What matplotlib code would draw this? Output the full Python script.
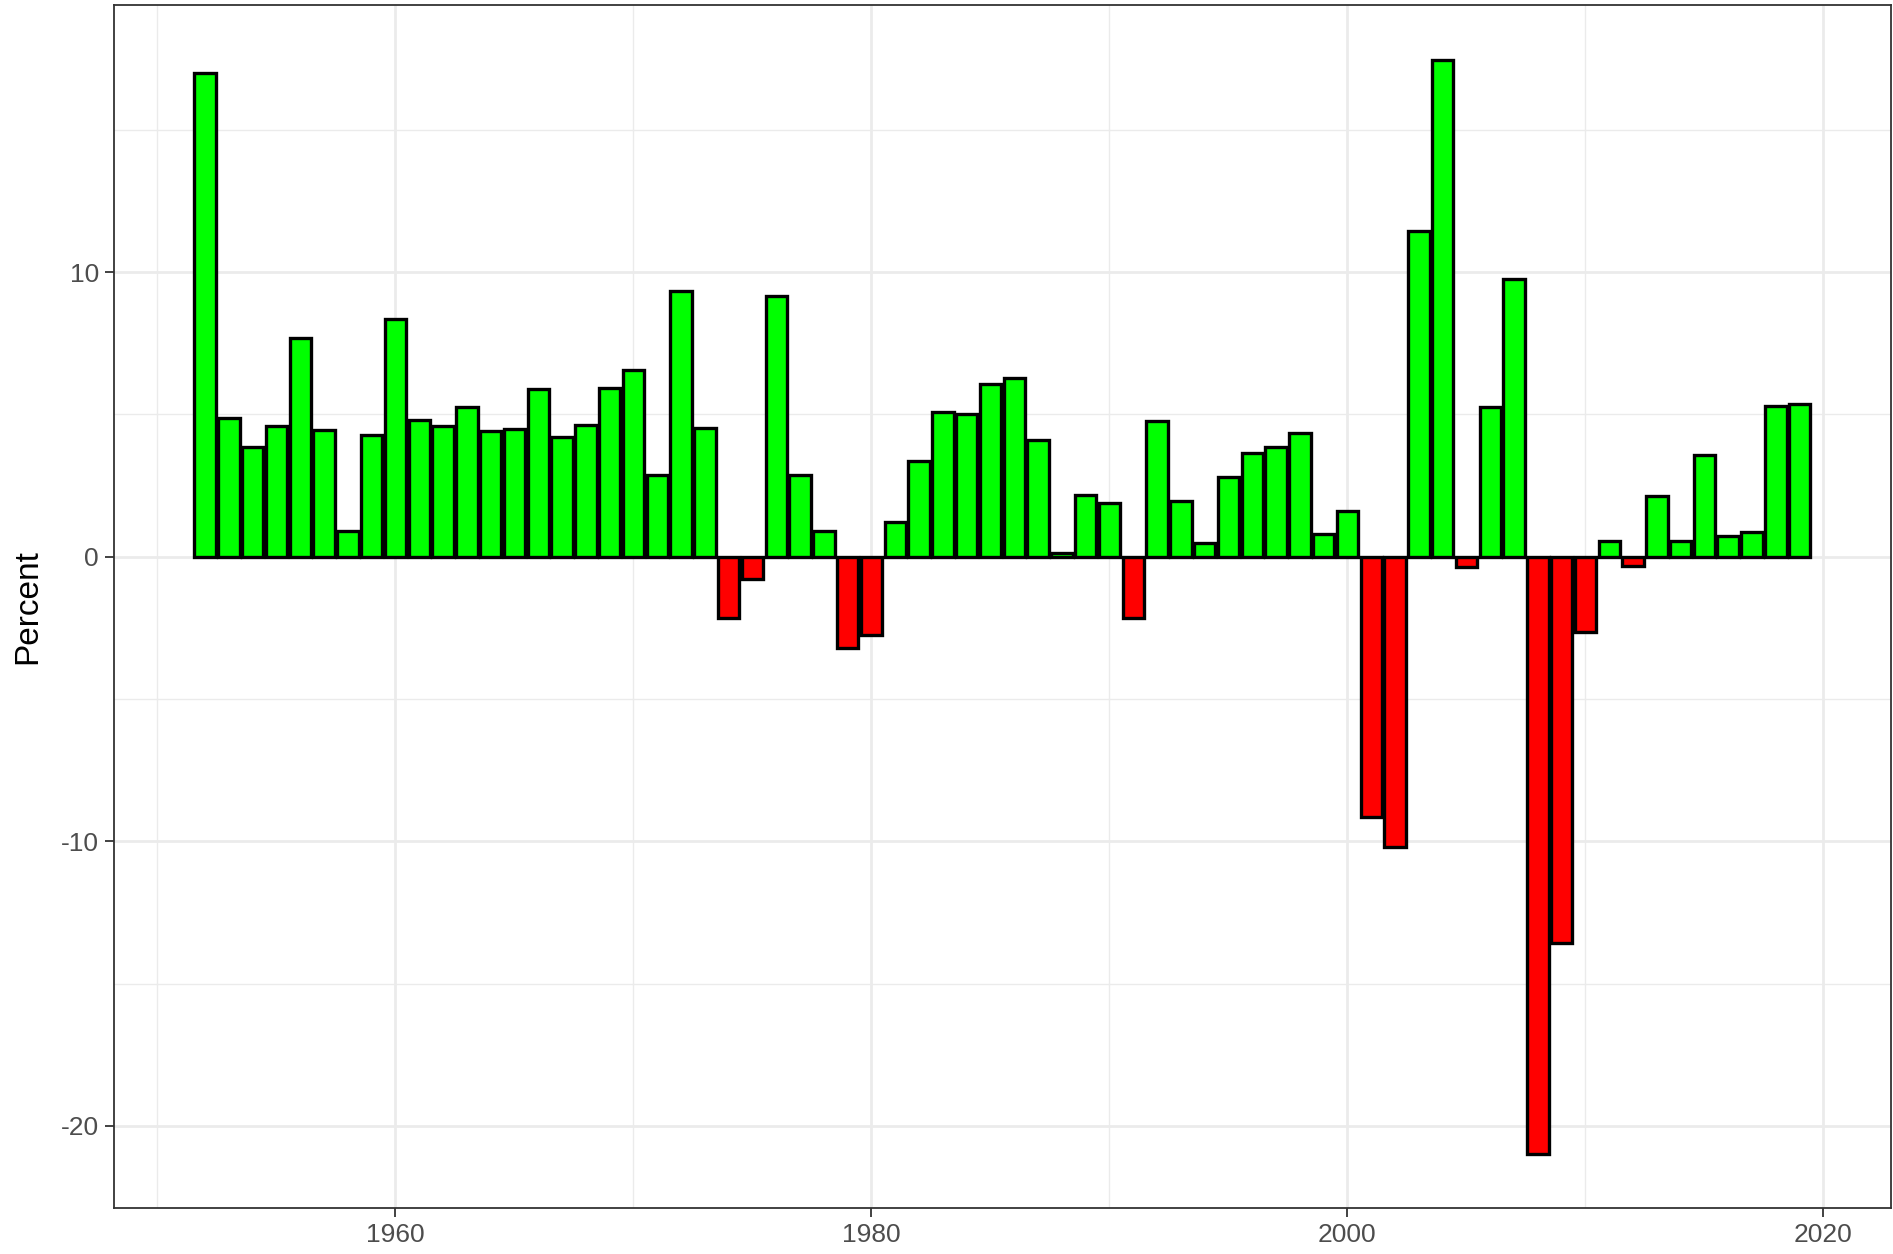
import numpy as np
import matplotlib
matplotlib.use('Agg')
from matplotlib import pyplot as plt
from matplotlib.ticker import MultipleLocator

plt.rcParams['font.family'] = ['Liberation Sans', 'DejaVu Sans']
plt.rcParams['axes.unicode_minus'] = False

years = np.arange(1952, 2020)
pct = [17.0, 4.87, 3.86, 4.58, 7.67, 4.45, 0.89, 4.28, 8.35, 4.79,
       4.58, 5.25, 4.41, 4.49, 5.89, 4.19, 4.62, 5.93, 6.57, 2.88,
       9.32, 4.53, -2.16, -0.80, 9.15, 2.88, 0.89, -3.22, -2.75, 1.23,
       3.35, 5.08, 5.00, 6.06, 6.27, 4.11, 0.13, 2.16, 1.90, -2.16,
       4.75, 1.95, 0.47, 2.80, 3.64, 3.86, 4.36, 0.81, 1.61, -9.15,
       -10.21, 11.44, 17.46, -0.38, 5.25, 9.75, -20.97, -13.56, -2.63, 0.55,
       -0.34, 2.12, 0.55, 3.56, 0.72, 0.85, 5.30, 5.38]
pct = np.array(pct)
colors = np.where(pct >= 0, '#00FF00', '#FF0000')

fig = plt.figure(figsize=(18.93, 12.54), dpi=100)
ax = fig.add_axes([0.06, 0.0365, 0.939, 0.9595])

ax.bar(years, pct, width=0.9, color=colors, edgecolor='black', linewidth=2.4, zorder=3)

# ggplot style expansion
xmin, xmax = years[0] - 0.45, years[-1] + 0.45
dx = (xmax - xmin) * 0.05
ax.set_xlim(xmin - dx, xmax + dx)
ymin, ymax = pct.min(), pct.max()
dy = (ymax - ymin) * 0.05
ax.set_ylim(ymin - dy, ymax + dy)

ax.xaxis.set_major_locator(MultipleLocator(20))
ax.xaxis.set_minor_locator(MultipleLocator(10))
ax.yaxis.set_major_locator(MultipleLocator(10))
ax.yaxis.set_minor_locator(MultipleLocator(5))

ax.grid(which='major', color='#EBEBEB', linewidth=2.0, zorder=0)
ax.grid(which='minor', color='#EBEBEB', linewidth=1.0, zorder=0)
ax.set_axisbelow(True)

ax.tick_params(which='major', length=6.5, width=1.3, color='#333333',
               labelsize=19, labelcolor='#4D4D4D', pad=4)
ax.tick_params(which='minor', length=0)
for s in ax.spines.values():
    s.set_color('#333333')
    s.set_linewidth(1.3)

ax.set_ylabel('Percent', fontsize=24, color='black', labelpad=13)

fig.savefig('out.png', dpi=100)
